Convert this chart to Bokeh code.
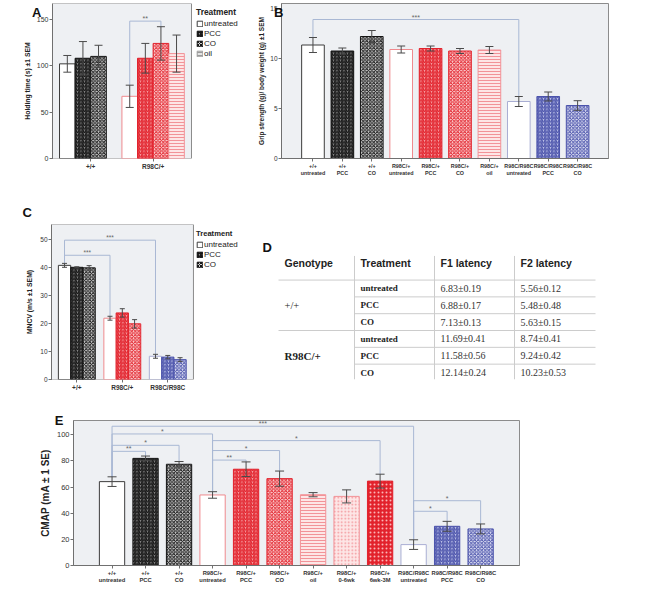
from bokeh.plotting import figure
from bokeh.layouts import column, row
from bokeh.models import (ColumnDataSource, Whisker, TeeHead, Legend, LinearAxis,
                          LegendItem, FixedTicker, Range1d)
from bokeh.embed import file_html
from bokeh.resources import INLINE
from bokeh.core.properties import value

SANS = "Liberation Sans"
SERIF = "Liberation Serif"

# ---------------- data ----------------
# Panel A: holding time (s)
a_genotypes = ["+/+", "R98C/+"]
a_treatments = ["untreated", "PCC", "CO", "oil"]
a_bar_geno = ["+/+", "+/+", "+/+", "R98C/+", "R98C/+", "R98C/+", "R98C/+"]
a_bar_treat = ["untreated", "PCC", "CO", "untreated", "PCC", "CO", "oil"]
a_mean = [102, 108, 110, 67, 108, 124, 113]
a_sem = [9, 18, 12, 12, 16, 18, 20]
a_yticks = [0, 50, 100, 150]
a_sig_from = [3]
a_sig_to = [5]
a_sig_y = [148]
a_sig_text = ["**"]

# Panel B: grip strength / body weight
b_labels = ["+/+\nuntreated", "+/+\nPCC", "+/+\nCO", "R98C/+\nuntreated", "R98C/+\nPCC",
            "R98C/+\nCO", "R98C/+\noil", "R98C/R98C\nuntreated", "R98C/R98C\nPCC", "R98C/R98C\nCO"]
b_bar_geno = ["+/+"] * 3 + ["R98C/+"] * 4 + ["R98C/R98C"] * 3
b_bar_treat = ["untreated", "PCC", "CO", "untreated", "PCC", "CO", "oil", "untreated", "PCC", "CO"]
b_mean = [11.35, 10.75, 12.2, 10.9, 11.0, 10.75, 10.85, 5.7, 6.2, 5.3]
b_sem = [0.75, 0.3, 0.6, 0.35, 0.25, 0.25, 0.35, 0.5, 0.45, 0.48]
b_yticks = [0, 5, 10, 15]
b_sig_from = [0]
b_sig_to = [7]
b_sig_y = [13.9]
b_sig_text = ["***"]

# Panel C: MNCV
c_genotypes = ["+/+", "R98C/+", "R98C/R98C"]
c_treatments = ["untreated", "PCC", "CO"]
c_mean = [40.8, 40.1, 39.9, 21.9, 23.8, 19.9, 8.3, 8.0, 7.1]
c_sem = [0.7, 0.2, 0.8, 0.7, 1.5, 1.5, 0.7, 0.6, 0.7]
c_yticks = [0, 10, 20, 30, 40, 50]
c_sig_from = [0, 0]
c_sig_to = [3, 6]
c_sig_y = [44.4, 49.8]
c_sig_text = ["***", "***"]

# Panel D: latency table
d_headers = ["Genotype", "Treatment", "F1 latency", "F2 latency"]
d_genotypes = ["+/+", "R98C/+"]
d_treatments = ["untreated", "PCC", "CO"]
d_f1 = ["6.83±0.19", "6.88±0.17", "7.13±0.13", "11.69±0.41", "11.58±0.56", "12.14±0.24"]
d_f2 = ["5.56±0.12", "5.48±0.48", "5.63±0.15", "8.74±0.41", "9.24±0.42", "10.23±0.53"]

# Panel E: CMAP
e_labels = ["+/+\nuntreated", "+/+\nPCC", "+/+\nCO", "R98C/+\nuntreated", "R98C/+\nPCC",
            "R98C/+\nCO", "R98C/+\noil", "R98C/+\n0-6wk", "R98C/+\n6wk-3M",
            "R98C/R98C\nuntreated", "R98C/R98C\nPCC", "R98C/R98C\nCO"]
e_bar_geno = ["+/+"] * 3 + ["R98C/+"] * 6 + ["R98C/R98C"] * 3
e_bar_treat = ["untreated", "PCC", "CO", "untreated", "PCC", "CO", "oil", "0-6wk", "6wk-3M",
               "untreated", "PCC", "CO"]
e_mean = [64.2, 82.0, 77.5, 54.0, 73.7, 66.5, 54.2, 52.9, 64.6, 16.0, 30.0, 28.0]
e_sem = [3.7, 1.8, 2.1, 2.5, 5.6, 5.8, 1.6, 5.0, 5.3, 3.7, 3.8, 3.8]
e_yticks = [0, 20, 40, 60, 80, 100]
e_sig_from = [0, 0, 0, 0, 3, 3, 3, 9, 9]
e_sig_to = [9, 3, 2, 1, 8, 5, 4, 11, 10]
e_sig_y = [106.6, 100.7, 92.0, 87.4, 95.6, 88.0, 80.7, 49.6, 41.5]
e_sig_text = ["***", "*", "*", "**", "*", "*", "**", "*", "*"]

# ---------------- styles ----------------
BG = "#eef0f3"
ERR = "#4a4a4a"
BRK = "#a9b8d4"
AXC = "#707070"
FRAME = "#8c8c8c"

GENO_COL = {
    "+/+": {"line": "#3c3c3c", "hatch": "#141414", "mid": "#8a8a8a", "pale": "#cfcfcf",
            "light": "#9a9a9a", "lightfill": "#e4e4e4"},
    "R98C/+": {"line": "#ef8a8e", "hatch": "#e2222c", "mid": "#f6a3a6", "pale": "#fcd6d6",
               "light": "#f29398", "lightfill": "#fde6e6"},
    "R98C/R98C": {"line": "#a9aed3", "hatch": "#4b53ab", "mid": "#c2c6ea", "pale": "#dfe1f4",
                  "light": "#9aa0d0", "lightfill": "#eceefa"},
}


def bar_style(g, t):
    c = GENO_COL[g]
    if t == "untreated":
        return dict(fill="#ffffff", line=c["line"], pat=" ", hc=c["hatch"], hs=4.0, hw=1.0)
    if t == "PCC":
        return dict(fill=c["mid"], line=c["hatch"], pat="/", hc=c["hatch"], hs=3.5, hw=1.3)
    if t == "CO":
        return dict(fill=c["pale"], line=c["hatch"], pat="x", hc=c["hatch"], hs=3.5, hw=1.0)
    if t == "oil":
        return dict(fill=c["lightfill"], line=c["light"], pat="-", hc=c["light"], hs=3.0, hw=1.0)
    if t == "0-6wk":
        return dict(fill=c["lightfill"], line=c["light"], pat=".", hc=c["light"], hs=3.5, hw=1.0)
    # 6wk-3M
    return dict(fill=c["hatch"], line=c["hatch"], pat=".", hc="#fbb4b6", hs=4.0, hw=1.0)


def style_cols(genos, treats):
    cols = dict(fill=[], line=[], pat=[], hc=[], hs=[], hw=[])
    for g, t in zip(genos, treats):
        s = bar_style(g, t)
        for k in cols:
            cols[k].append(s[k])
    return cols


def base_fig(frame_w, frame_h, xr, yr, bl, br, bt, bb):
    p = figure(width=bl + frame_w + br, height=bt + frame_h + bb,
               x_range=Range1d(*xr), y_range=Range1d(*yr),
               output_backend="svg", toolbar_location=None,
               min_border_left=bl, min_border_right=br,
               min_border_top=bt, min_border_bottom=bb)
    p.background_fill_color = BG
    p.border_fill_color = "white"
    p.outline_line_color = FRAME
    p.xgrid.visible = False
    p.ygrid.visible = False
    for ax in (p.xaxis[0], p.yaxis[0]):
        ax.axis_line_color = AXC
        ax.major_tick_line_color = AXC
        ax.major_tick_out = 3
        ax.major_tick_in = 0
        ax.minor_tick_line_color = None
        ax.major_label_text_font = SANS
        ax.major_label_text_color = "#333333"
        ax.axis_label_text_font = SANS
        ax.axis_label_text_font_style = "bold"
        ax.axis_label_text_color = "#222222"
        ax.major_label_standoff = 1
    return p


def plot_area(p, x0, x1, y0, y1):
    # grey plotting box drawn inside a wider white frame (the legend sits to its right)
    p.background_fill_color = "white"
    p.outline_line_color = None
    p.xaxis.axis_line_color = None
    p.quad(left=[x0], right=[x1], bottom=[y0], top=[y1], fill_color=BG,
           line_color=FRAME, line_width=1)


def add_bars(p, xs, means, sems, genos, treats, width, cap):
    st = style_cols(genos, treats)
    src = ColumnDataSource(dict(x=xs, top=means,
                                lower=[m - s for m, s in zip(means, sems)],
                                upper=[m + s for m, s in zip(means, sems)], **st))
    p.vbar(x="x", top="top", width=width, source=src, fill_color="fill", line_color="line",
           hatch_pattern="pat", hatch_color="hc", hatch_scale="hs", hatch_weight="hw",
           line_width=1)
    w = Whisker(base="x", upper="upper", lower="lower", source=src, line_color=ERR, line_width=1,
                level="annotation",
                upper_head=TeeHead(size=cap, line_color=ERR, line_width=1),
                lower_head=TeeHead(size=cap, line_color=ERR, line_width=1))
    p.add_layout(w)


def add_brackets(p, xs, means, sems, froms, tos, ys, texts, fs):
    mxs, mys, tx, ty = [], [], [], []
    for f, t, y in zip(froms, tos, ys):
        mxs.append([xs[f], xs[f], xs[t], xs[t]])
        mys.append([means[f] + sems[f], y, y, means[t] + sems[t]])
        tx.append((xs[f] + xs[t]) / 2)
        ty.append(y)
    p.multi_line(mxs, mys, line_color=BRK, line_width=1)
    p.text(tx, ty, text=texts, text_align="center", text_baseline="bottom",
           text_font=value(SANS), text_font_size=fs, text_color="#666666", y_offset=1)


def add_legend(p, treatments, loc, title_fs, label_fs):
    items = []
    for t in treatments:
        s = bar_style("+/+", t)
        r = p.vbar(x=[-1000], top=[0], width=1, fill_color=s["fill"], line_color=s["line"],
                   hatch_pattern=s["pat"], hatch_color=s["hc"], hatch_scale=3.0,
                   hatch_weight=s["hw"], line_width=1)
        items.append(LegendItem(label=t, renderers=[r]))
    leg = Legend(items=items, location=loc, title="Treatment",
                 title_text_font=SANS, title_text_font_style="bold",
                 title_text_font_size=title_fs, title_standoff=2, title_text_color="#222222",
                 label_text_font=SANS, label_text_font_size=label_fs, label_text_color="#222222",
                 glyph_width=7, glyph_height=7, label_height=8, label_standoff=1,
                 spacing=1, padding=0, margin=0, border_line_color=None,
                 background_fill_alpha=0)
    p.add_layout(leg)


def letter_axis(p, txt, ytop, standoff):
    # panel letter drawn as the single tick label of an extra, line-less left axis
    ax = LinearAxis(ticker=FixedTicker(ticks=[ytop]), major_label_overrides={ytop: txt},
                    axis_line_color=None, major_tick_line_color=None,
                    minor_tick_line_color=None, major_tick_out=0, major_tick_in=0,
                    major_label_text_font=SANS, major_label_text_font_style="bold",
                    major_label_text_font_size="13px", major_label_text_color="#111111",
                    major_label_standoff=standoff)
    p.add_layout(ax, "left")


# ---------------- Panel A ----------------
A_FH = 155
A_TOP = 167
A_X0, A_X1 = -1.9, 15.92          # grey box spans 139 px
A_XEND = 22.2                     # frame extended to the right for the legend
pA = base_fig(188, A_FH, (A_X0, A_XEND), (0, A_TOP), 52, 2, 3, 24)
plot_area(pA, A_X0, A_X1, 0, A_TOP)
a_x = [2 * (a_genotypes.index(g) * len(a_treatments) + a_treatments.index(t))
       for g, t in zip(a_bar_geno, a_bar_treat)]
add_bars(pA, a_x, a_mean, a_sem, a_bar_geno, a_bar_treat, 2.0, 8)
add_brackets(pA, a_x, a_mean, a_sem, a_sig_from, a_sig_to, a_sig_y, a_sig_text, "7px")
a_ticks = [2 * i * len(a_treatments) + 3 for i in range(len(a_genotypes))]
pA.xaxis.ticker = FixedTicker(ticks=a_ticks)
pA.xaxis.major_label_overrides = {t: g for t, g in zip(a_ticks, a_genotypes)}
pA.xaxis.major_label_text_font_style = "bold"
pA.xaxis.major_label_text_font_size = "6.5px"
pA.yaxis.ticker = FixedTicker(ticks=a_yticks)
pA.yaxis.major_label_text_font_size = "7px"
pA.yaxis.axis_label = "Holding time (s) ±1 SEM"
pA.yaxis.axis_label_text_font_size = "6.8px"
pA.yaxis.axis_label_standoff = 3
add_legend(pA, a_treatments, (144, 100), "8.4px", "8px")
letter_axis(pA, "A", A_TOP, -21)

# ---------------- Panel B ----------------
B_TOP = 15.5
pB = base_fig(327, A_FH, (-1.07, 10.05), (0, B_TOP), 39, 16, 3, 24)
b_x = list(range(len(b_mean)))
add_bars(pB, b_x, b_mean, b_sem, b_bar_geno, b_bar_treat, 0.77, 8)
add_brackets(pB, b_x, b_mean, b_sem, b_sig_from, b_sig_to, b_sig_y, b_sig_text, "7px")
pB.xaxis.ticker = FixedTicker(ticks=b_x)
pB.xaxis.major_label_overrides = {i: l for i, l in zip(b_x, b_labels)}
pB.xaxis.major_label_text_font_style = "bold"
pB.xaxis.major_label_text_font_size = "5.4px"
pB.yaxis.ticker = FixedTicker(ticks=b_yticks)
pB.yaxis.major_label_text_font_size = "6.5px"
pB.yaxis.axis_label = "Grip strength (g)/ body weight (g) ±1 SEM"
pB.yaxis.axis_label_text_font_size = "6.5px"
pB.yaxis.axis_label_standoff = 2
letter_axis(pB, "B", B_TOP, -28)

# ---------------- Panel C ----------------
C_FH = 155
C_X0, C_X1 = -10.6, 104.9         # grey box spans 142 px
C_XEND = 151.3
pC = base_fig(199, C_FH, (C_X0, C_XEND), (0, 55.4), 51, 4, 42, 15)
plot_area(pC, C_X0, C_X1, 0, 55.4)
c_bar_geno = [g for g in c_genotypes for _ in c_treatments]
c_bar_treat = [t for _ in c_genotypes for t in c_treatments]
c_x = [37 * c_genotypes.index(g) + 10 * c_treatments.index(t) for g, t in zip(c_bar_geno, c_bar_treat)]
add_bars(pC, c_x, c_mean, c_sem, c_bar_geno, c_bar_treat, 10, 5)
add_brackets(pC, c_x, c_mean, c_sem, c_sig_from, c_sig_to, c_sig_y, c_sig_text, "6.5px")
c_ticks = [37 * i + 10 for i in range(len(c_genotypes))]
pC.xaxis.ticker = FixedTicker(ticks=c_ticks)
pC.xaxis.major_label_overrides = {t: g for t, g in zip(c_ticks, c_genotypes)}
pC.xaxis.major_label_text_font_style = "bold"
pC.xaxis.major_label_text_font_size = "6.5px"
pC.yaxis.ticker = FixedTicker(ticks=c_yticks)
pC.yaxis.major_label_text_font_size = "6.5px"
pC.yaxis.axis_label = "MNCV (m/s ±1 SEM)"
pC.yaxis.axis_label_text_font_size = "6.8px"
pC.yaxis.axis_label_standoff = 4
add_legend(pC, c_treatments, (145, 110), "7.6px", "8px")
pC.title.text = "C"
pC.title.align = "left"
pC.title.offset = -29
pC.title.standoff = 10
pC.title.text_font = SANS
pC.title.text_font_style = "bold"
pC.title.text_font_size = "13px"
pC.title.text_color = "#111111"

# ---------------- Panel D (table) ----------------
DW, DH = 370, 212
pD = figure(width=DW, height=DH, x_range=Range1d(0, DW), y_range=Range1d(DH, 0),
            output_backend="svg", toolbar_location=None, min_border=0,
            x_axis_location=None, y_axis_location=None)
pD.outline_line_color = None
pD.xgrid.visible = False
pD.ygrid.visible = False
col_x = [30, 106, 186, 266]
vline_x = [100, 180, 260]
head_y = 53
row0 = 76
row_h = 23
right_x = 341
left_x = 24
n_rows = len(d_genotypes) * len(d_treatments)
pD.segment(x0=vline_x, y0=[43] * 3, x1=vline_x, y1=[DH] * 3, line_color="#cccccc", line_width=1)
h_y0, h_x0 = [], []
for k in range(n_rows):
    h_y0.append(row0 + k * row_h)
    h_x0.append(left_x if k % len(d_treatments) == 0 else vline_x[0])
pD.segment(x0=h_x0, y0=h_y0, x1=[right_x] * n_rows, y1=h_y0, line_color="#cccccc", line_width=1)
pD.text(col_x, [head_y] * 4, text=d_headers, text_font=value(SANS), text_font_style="bold",
        text_font_size="10.5px", text_baseline="middle", text_color="#222222")
row_cy = [row0 + row_h * k + row_h / 2 for k in range(n_rows)]
pD.text([col_x[1]] * n_rows, row_cy, text=[t for _ in d_genotypes for t in d_treatments],
        text_font=value(SERIF), text_font_style="bold", text_font_size="9px",
        text_baseline="middle", text_color="#222222")
pD.text([col_x[2]] * n_rows, row_cy, text=d_f1, text_font=value(SERIF),
        text_font_size="10px", text_baseline="middle", text_color="#333333")
pD.text([col_x[3]] * n_rows, row_cy, text=d_f2, text_font=value(SERIF),
        text_font_size="10px", text_baseline="middle", text_color="#333333")
g_y = [row_cy[i * len(d_treatments) + 1] for i in range(len(d_genotypes))]
pD.text([col_x[0]], [g_y[0]], text=[d_genotypes[0]], text_font=value(SERIF),
        text_font_size="10.5px", text_baseline="middle", text_color="#222222")
pD.text([col_x[0]], [g_y[1]], text=[d_genotypes[1]], text_font=value(SERIF), text_font_style="bold",
        text_font_size="11px", text_baseline="middle", text_color="#222222")
pD.text([8], [21], text=["D"], text_font=value(SANS), text_font_style="bold",
        text_font_size="13px", text_baseline="top", text_color="#111111")

# ---------------- Panel E ----------------
E_FH = 148
E_TOP = 111
pE = base_fig(446, E_FH, (-1.15, 12.16), (0, E_TOP), 73, 105, 26, 17)
e_x = list(range(len(e_mean)))
add_bars(pE, e_x, e_mean, e_sem, e_bar_geno, e_bar_treat, 0.755, 9)
add_brackets(pE, e_x, e_mean, e_sem, e_sig_from, e_sig_to, e_sig_y, e_sig_text, "7px")
pE.xaxis.ticker = FixedTicker(ticks=e_x)
pE.xaxis.major_label_overrides = {i: l for i, l in zip(e_x, e_labels)}
pE.xaxis.major_label_text_font_style = "bold"
pE.xaxis.major_label_text_font_size = "5.8px"
pE.yaxis.ticker = FixedTicker(ticks=e_yticks)
pE.yaxis.major_label_text_font_size = "7.5px"
pE.yaxis.axis_label = "CMAP (mA ± 1 SE)"
pE.yaxis.axis_label_text_font_size = "10px"
pE.yaxis.axis_label_standoff = 3
letter_axis(pE, "E", E_TOP, -27)

layout = column(row(pA, pB, spacing=0), row(pC, pD, spacing=0), pE, spacing=0)
open("out.html", "w").write(file_html(layout, INLINE))
